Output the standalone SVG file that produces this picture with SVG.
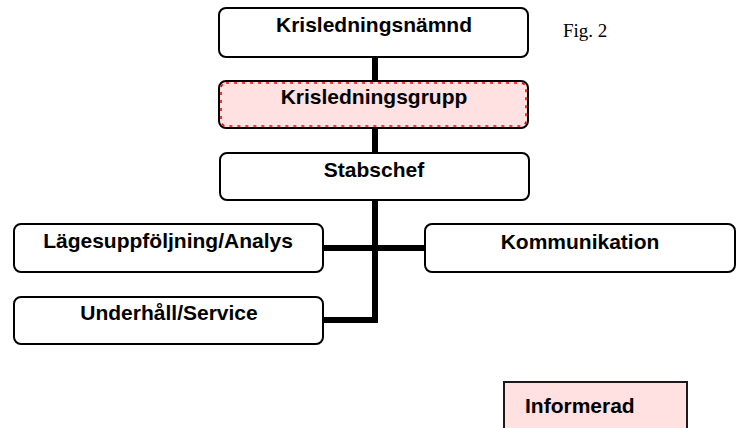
<svg xmlns="http://www.w3.org/2000/svg" width="740" height="428" viewBox="0 0 740 428">
<style>
.box{fill:#ffffff;stroke:#000000;stroke-width:2}
.pink{fill:#ffe1e1;stroke:#000000;stroke-width:2}
.dash{fill:none;stroke:#ff0000;stroke-width:1.6;stroke-dasharray:3 5}
.lbl{font-family:"Liberation Sans",Arial,sans-serif;font-weight:bold;font-size:21px;fill:#000000;text-anchor:middle}
.fig{font-family:"Liberation Serif","Times New Roman",serif;font-size:19px;fill:#000000}
.con{stroke:#000000;stroke-width:6;fill:none}
</style>
<rect width="740" height="428" fill="#ffffff"/>
<g id="connectors">
<line class="con" x1="375" y1="57" x2="375" y2="81"/>
<line class="con" x1="375" y1="128" x2="375" y2="153"/>
<polyline class="con" points="375,200 375,320 323,320"/>
<line class="con" x1="323" y1="248" x2="425" y2="248"/>
</g>
<g id="krisledningsnamnd">
<rect class="box" x="219" y="8" width="309" height="49" rx="7"/>
<text class="lbl" x="374" y="32">Krisledningsnämnd</text>
</g>
<g id="krisledningsgrupp">
<rect class="pink" x="219" y="81" width="309" height="47" rx="7"/>
<rect class="dash" x="221" y="83" width="305" height="43" rx="5"/>
<text class="lbl" x="374" y="104">Krisledningsgrupp</text>
</g>
<g id="stabschef">
<rect class="box" x="220" y="153" width="309" height="47" rx="7"/>
<text class="lbl" x="374" y="177">Stabschef</text>
</g>
<g id="lagesuppfoljning">
<rect class="box" x="14" y="224" width="309" height="48" rx="7"/>
<text class="lbl" x="168" y="248">Lägesuppföljning/Analys</text>
</g>
<g id="kommunikation">
<rect class="box" x="425" y="224" width="310" height="48" rx="7"/>
<text class="lbl" x="580" y="249">Kommunikation</text>
</g>
<g id="underhall">
<rect class="box" x="14" y="297" width="309" height="47" rx="7"/>
<text class="lbl" x="169" y="320">Underhåll/Service</text>
</g>
<g id="fig">
<text class="fig" x="563" y="37">Fig. 2</text>
</g>
<g id="informerad">
<rect x="504" y="382" width="183" height="60" fill="#ffe1e1" stroke="#1a1a1a" stroke-width="2"/>
<text class="lbl" x="525" y="413" style="text-anchor:start">Informerad</text>
</g>
</svg>
